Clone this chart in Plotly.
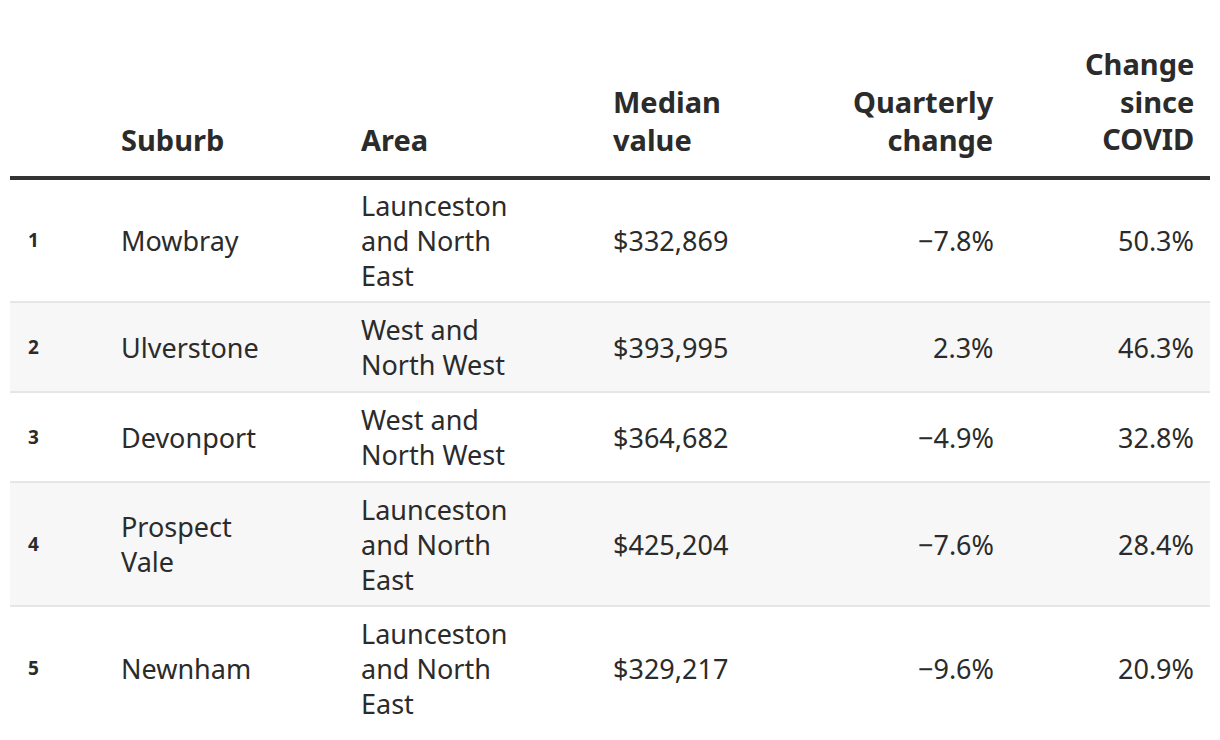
import textwrap
import plotly.graph_objects as go

# ---- data ----
ranks = [1, 2, 3, 4, 5]
suburbs = ["Mowbray", "Ulverstone", "Devonport", "Prospect Vale", "Newnham"]
areas = ["Launceston and North East", "West and North West", "West and North West",
         "Launceston and North East", "Launceston and North East"]
median_values = [332869, 393995, 364682, 425204, 329217]
quarterly_change = [-7.8, 2.3, -4.9, -7.6, -9.6]
covid_change = [50.3, 46.3, 32.8, 28.4, 20.9]
headers = ["", "Suburb", "Area", "Median value", "Quarterly change", "Change since COVID"]

# ---- style ----
W, H = 1220, 740
OFF = 8  # page body margin
FONT = "Noto Sans"
TEXT = "#2b2b2b"
BODY_FS = 27
HEAD_FS = 29
RANK_FS = 19
LINE_H = 34
HEAD_LINE_H = 1.3 * HEAD_FS
PAD = 22
WRAP = 11
TABLE_L, TABLE_R = 10, 1210
HEAD_BOTTOM = 178
HEAD_LAST_LINE_Y = 139
# column (x, anchor)
cols = [(26, "left"), (119, "left"), (359, "left"), (611, "left"), (996, "right"), (1196, "right")]


def pct(v):
    s = f"{abs(v):.1f}%"
    return ("\u2212" + s) if v < 0 else s


def money(v):
    return f"${v:,}"


header_wraps = {"Median value": ["Median", "value"],
                "Quarterly change": ["Quarterly", "change"],
                "Change since COVID": ["Change", "since", "COVID"]}

annotations = []
shapes = []


def add_cell(lines, x, anchor, yc, size, bold=False):
    txt = "<br>".join(lines)
    if bold:
        txt = f"<b>{txt}</b>"
    annotations.append(dict(
        x=x, y=yc, xref="x", yref="y", text=txt, align=anchor,
        showarrow=False, xanchor=anchor, yanchor="middle",
        font=dict(family=FONT, size=size, color=TEXT)))


# header
for (x, anchor), h in zip(cols, headers):
    if not h:
        continue
    lines = header_wraps.get(h, textwrap.wrap(h, WRAP))
    n = len(lines)
    yc = HEAD_LAST_LINE_Y - (n - 1) / 2 * HEAD_LINE_H
    add_cell(lines, x, anchor, yc, HEAD_FS, bold=True)

shapes.append(dict(type="line", xref="x", yref="y", x0=TABLE_L, x1=TABLE_R,
                   y0=HEAD_BOTTOM, y1=HEAD_BOTTOM, line=dict(color="#333333", width=4)))

# body
top = HEAD_BOTTOM
for i in range(len(ranks)):
    cells = [
        [str(ranks[i])],
        textwrap.wrap(suburbs[i], WRAP),
        textwrap.wrap(areas[i], WRAP),
        [money(median_values[i])],
        [pct(quarterly_change[i])],
        [pct(covid_change[i])],
    ]
    nlines = max(len(c) for c in cells)
    h = nlines * LINE_H + PAD
    bottom = top + h
    if i % 2 == 1:
        shapes.append(dict(type="rect", xref="x", yref="y", x0=TABLE_L, x1=TABLE_R,
                           y0=top, y1=bottom, fillcolor="#f7f7f7", line=dict(width=0),
                           layer="below"))
    yc = (top + bottom) / 2
    for j, ((x, anchor), c) in enumerate(zip(cols, cells)):
        if j == 0:
            add_cell(c, x, anchor, yc, RANK_FS, bold=True)
        else:
            add_cell(c, x, anchor, yc, BODY_FS)
    if i < len(ranks) - 1:
        shapes.append(dict(type="line", xref="x", yref="y", x0=TABLE_L, x1=TABLE_R,
                           y0=bottom, y1=bottom, line=dict(color="#e6e6e6", width=2)))
    top = bottom

fig = go.Figure()
fig.update_layout(
    width=W, height=H, margin=dict(l=0, r=0, t=0, b=0),
    paper_bgcolor="white", plot_bgcolor="white",
    xaxis=dict(range=[OFF, W + OFF], visible=False, fixedrange=True),
    yaxis=dict(range=[H + OFF, OFF], visible=False, fixedrange=True),
    annotations=annotations, shapes=shapes, showlegend=False,
)
fig.write_html("out.html", config={"displayModeBar": False})
